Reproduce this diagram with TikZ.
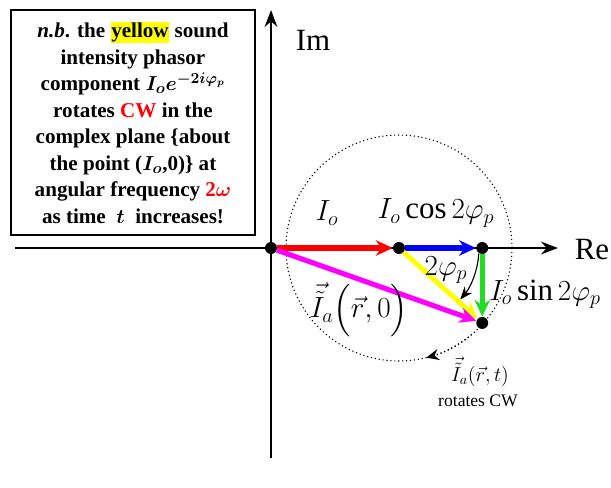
\documentclass[tikz,border=0pt]{standalone}
\usepackage{amsmath}
\usepackage{bm}
\usepackage{fontspec}
\setmainfont{Liberation Serif}
\usepackage{tikz}
\usetikzlibrary{arrows.meta,positioning,calc}
\definecolor{PhRed}{HTML}{FF0000}
\definecolor{PhBlue}{HTML}{0000FF}
\definecolor{PhYellow}{HTML}{FFFF00}
\definecolor{PhGreen}{HTML}{22DD22}
\definecolor{PhMagenta}{HTML}{FF00FF}

\begin{document}
\begin{tikzpicture}[x=0.025cm, y=-0.025cm,
    axis/.style={line width=1.6pt, -{Stealth[length=12pt,width=9pt]}},
    vec/.style={line width=3.6pt, -{Stealth[length=12pt,width=11pt]}},
    dot/.style={circle, fill=black, inner sep=0pt, minimum size=8.5pt},
    lab/.style={font=\fontsize{22}{26}\selectfont},
    every node/.style={font=\small}]
  \useasboundingbox (0,0) rectangle (611,487);
  \draw[axis] (271,458) -- (271,10);
  \draw[axis] (15,248) -- (558,248);
  \node[lab] (im) at (313,40) {Im};
  \node[lab] (re) at (592,250) {Re};
  \node[dot] (O) at (271,248) {};
  \node[dot] (B) at (399,248) {};
  \node[dot] (D) at ($(B)+(42:112)$) {};
  \node[dot] (C) at (D |- B) {};
  \draw[dotted, thick] (B) circle[radius=113];
  \draw[dotted, thick, -{Stealth[length=9pt,width=8pt]}] ($(B)+(50:113)$) arc[start angle=50, end angle=76, radius=113];
  \draw[vec, PhRed] (O) -- (B);
  \draw[vec, PhBlue] (B) -- (C);
  \draw[vec, PhYellow] (B) -- (D);
  \draw[vec, PhGreen] (C) -- (D);
  \draw[vec, PhMagenta] (O) -- (D);
  \draw[thick, -{Stealth[length=9pt,width=7pt]}] ($(B)+(4:80)$) arc[start angle=4, end angle=40, radius=80];
  \node[lab] (io) at (327,213) {$I_o$};
  \node[lab] (cos) at (436,213) {$I_o\cos 2\varphi_p$};
  \node[lab] (ang) at (446,270) {$2\varphi_p$};
  \node[lab] (sin) at (545,294) {$I_o\sin 2\varphi_p$};
  \node[lab] (ia) at (359,310) {$\vec{\tilde{I}}_a\Bigl(\vec{r},0\Bigr)$};
  \node[font=\fontsize{14}{16}\selectfont] (iat) at (480,372) {$\vec{\tilde{I}}_a(\vec{r},t)$};
  \node[font=\fontsize{12.5}{15}\selectfont] (cw) at (478,401) {rotates CW};
  \draw[line width=1.4pt] (11,10) rectangle (255,235);
  \node[align=center, font=\bfseries\fontsize{15}{18.9}\selectfont] (nb) at (133,123)
    {\textit{n.b}. the {\setlength{\fboxsep}{0.5pt}\colorbox{PhYellow}{yellow}} sound\\
     intensity phasor\\
     component $\bm{I_o e^{-2i\varphi_p}}$\\
     rotates \textcolor{PhRed}{CW} in the\\
     complex plane \{about\\
     the point ($\bm{I_o}$,0)\} at\\
     angular frequency \textcolor{PhRed}{2$\bm{\omega}$}\\
     as time \ $\bm{t}$ \ increases!};
\end{tikzpicture}
\end{document}
